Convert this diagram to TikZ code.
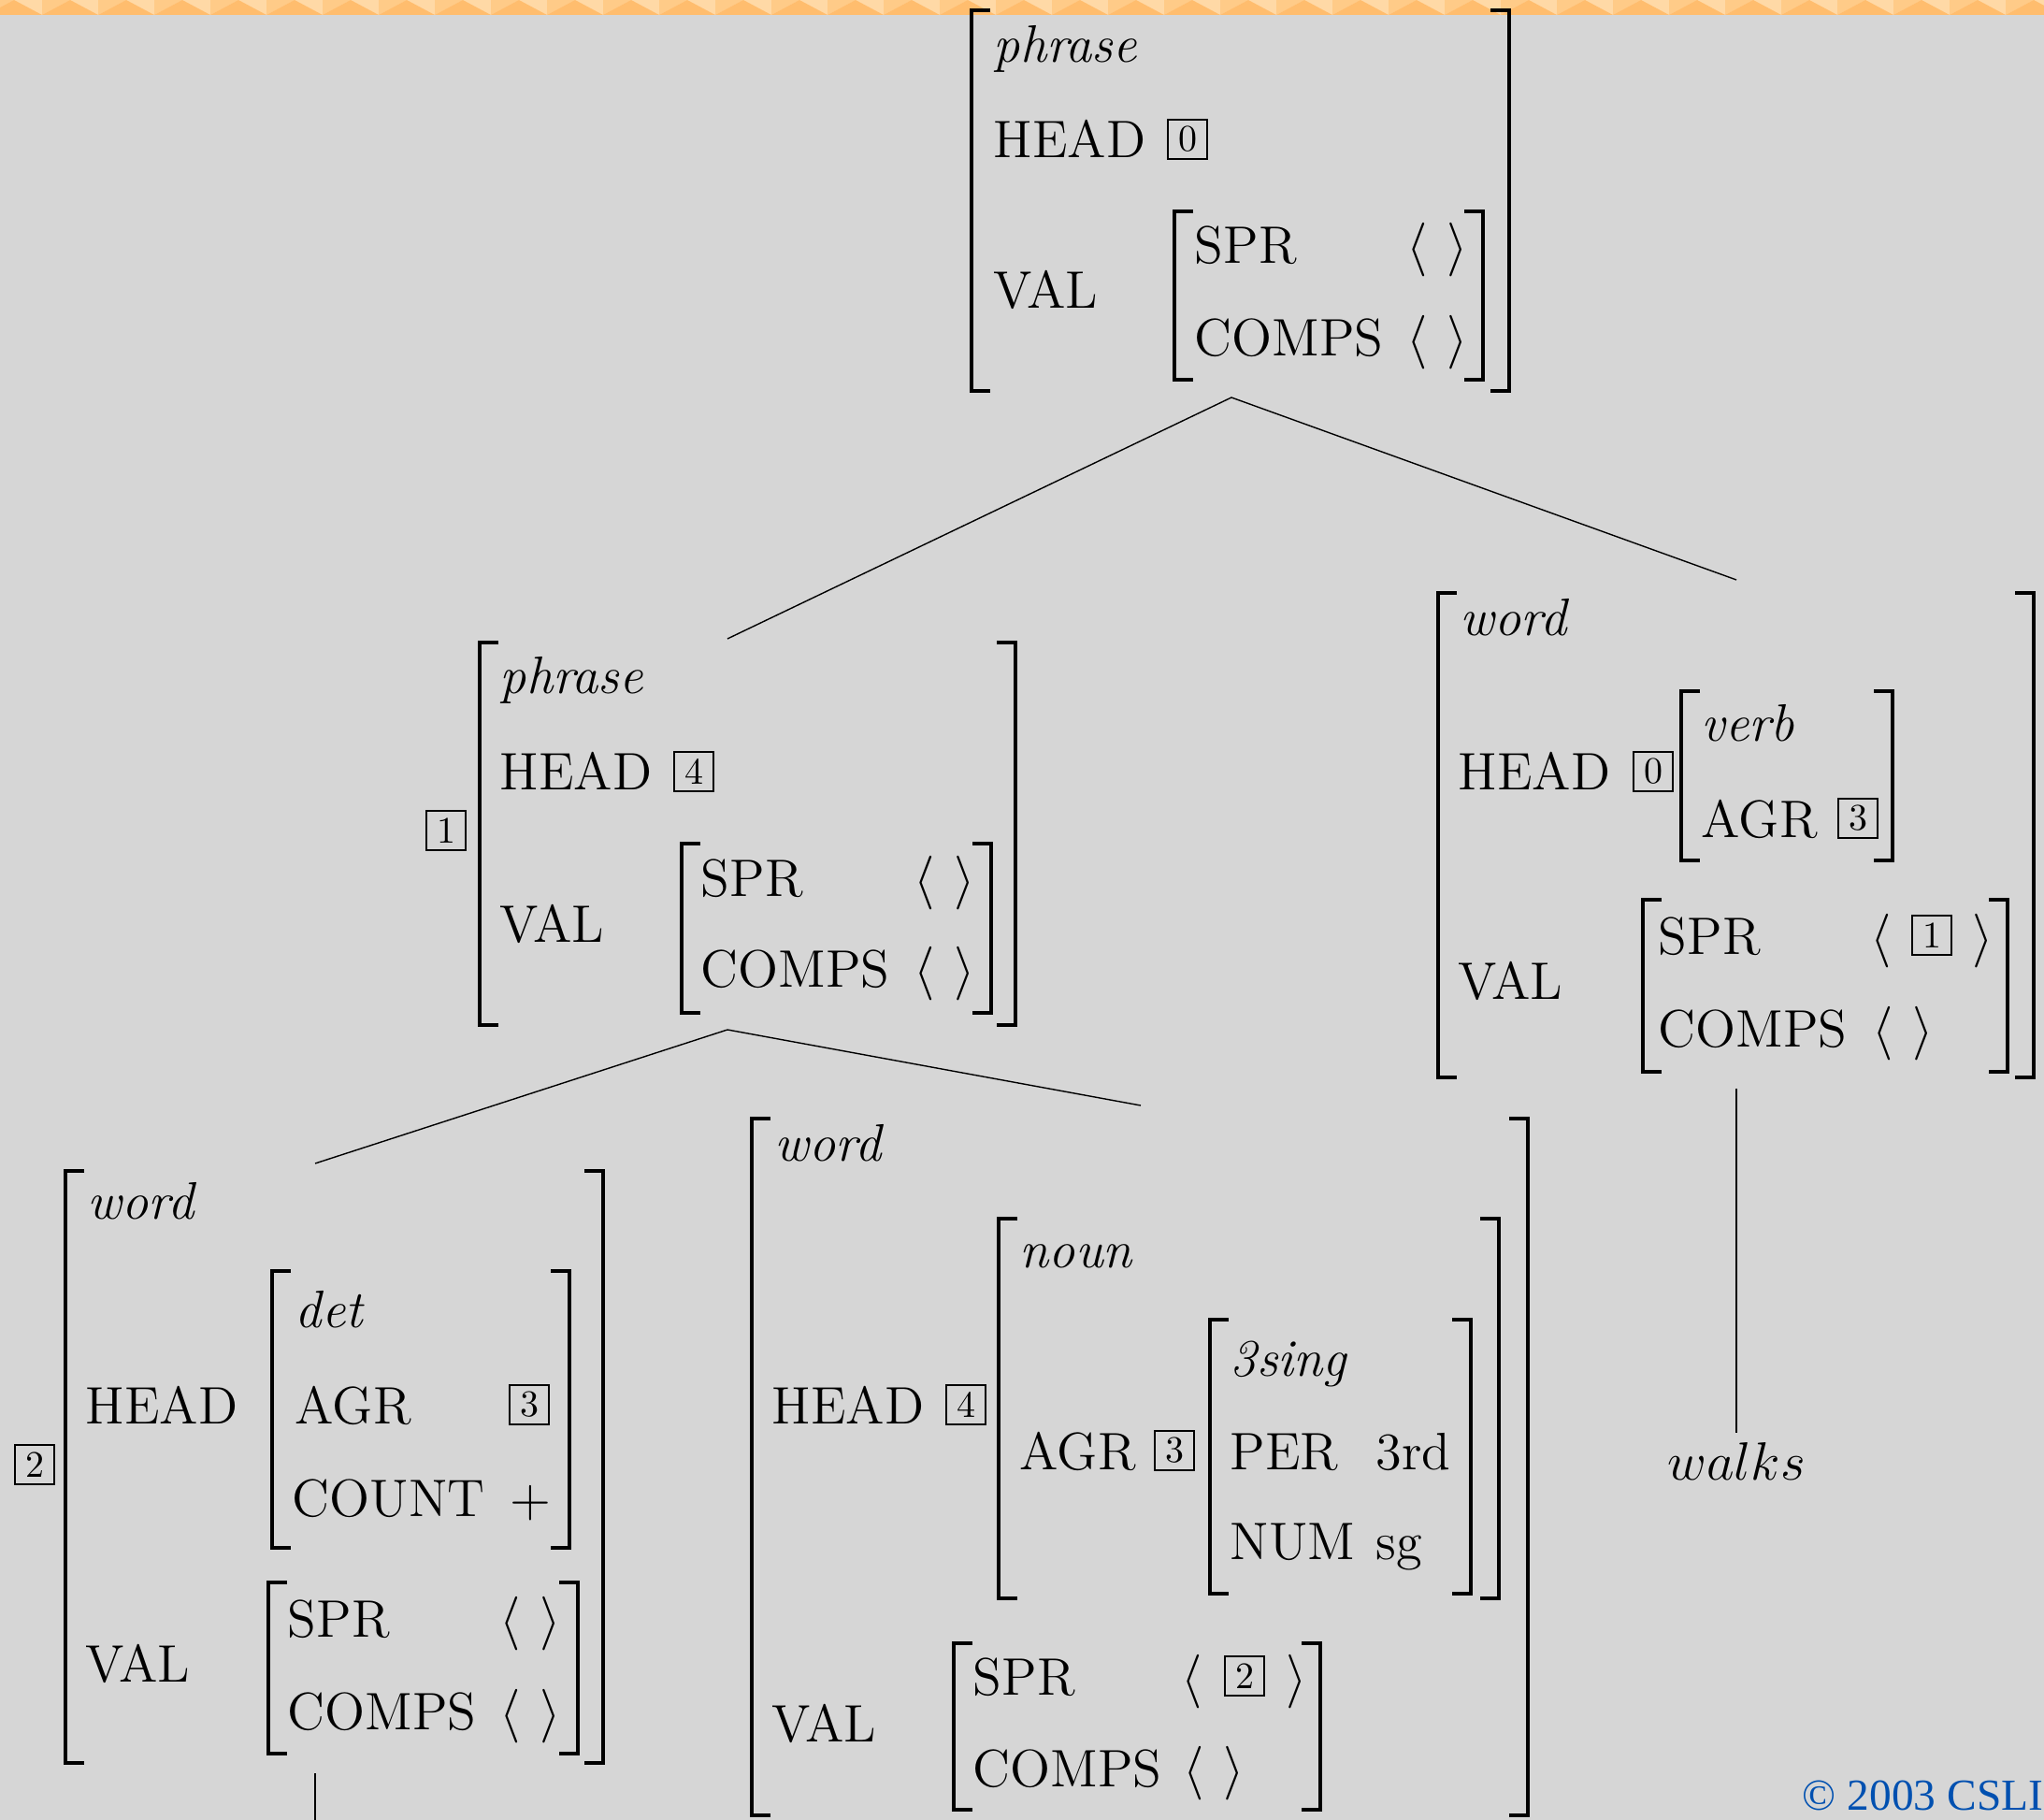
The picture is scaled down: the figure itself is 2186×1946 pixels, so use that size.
\documentclass[tikz,border=0pt]{standalone}
\usepackage{fontspec}
\newfontfamily\cslifont{Liberation Serif}
\definecolor{bgray}{HTML}{D6D6D6}
\definecolor{bandlight}{HTML}{FFD9A6}
\definecolor{bandmid}{HTML}{FFCB88}
\definecolor{banddark}{HTML}{FFBD6E}
\definecolor{csliblue}{HTML}{0050B0}
\tikzset{
  lbl/.style={anchor=base west, inner sep=0pt, font=\fontsize{14.1}{17}\selectfont},
  typ/.style={lbl, font=\fontsize{14.1}{17}\selectfont\itshape},
  rgt/.style={lbl, anchor=base east},
  tagbox/.style={draw, line width=0.5pt, minimum size=10.5pt, inner sep=0pt, font=\fontsize{10}{12}\selectfont},
  brk/.style={line width=0.875pt},
  treeline/.style={line width=0.35pt}
}
\newcommand\avmL[3]{\draw[brk] (#1+20,#2) -| (#1,#3) -- (#1+20,#3);}
\newcommand\avmR[3]{\draw[brk] (#1-20,#2) -| (#1,#3) -- (#1-20,#3);}
\begin{document}
\begin{tikzpicture}[x=0.25pt,y=-0.25pt]
\useasboundingbox (0,0) rectangle (2186,1946);
\fill[bgray] (0,0) rectangle (2186,1946);
% top band
\fill[bandlight] (0,0) rectangle (2186,16);
\foreach \k in {0,...,37}{
  \pgfmathsetmacro\xa{-15+60*\k}
  \fill[bandmid] (\xa,0) -- (\xa+30,0) -- (\xa,16) -- cycle;
  \fill[banddark] (\xa,16) -- (\xa+30,0) -- (\xa+60,16) -- cycle;
}
% ---------- top AVM (S) ----------
\avmL{1039}{11}{418}\avmR{1614}{11}{418}
\node[typ] (sType) at (1062,67) {phrase};
\node[lbl] (sHead) at (1062,169) {HEAD};
\node[tagbox] (sHeadTag) at (1270,149) {0};
\node[lbl] (sVal) at (1062,330) {VAL};
\avmL{1256}{226}{406}\avmR{1586}{226}{406}
\node[lbl] (sSpr) at (1277,282) {SPR};
\node[lbl] (sSprL) at (1504,282) {$\langle$};
\node[rgt] (sSprR) at (1571,282) {$\rangle$};
\node[lbl] (sComps) at (1277,381) {COMPS};
\node[lbl] (sCompsL) at (1504,381) {$\langle$};
\node[rgt] (sCompsR) at (1571,381) {$\rangle$};
% ---------- NP AVM ----------
\node[tagbox] (npTag) at (477,888) {1};
\avmL{513}{687}{1096}\avmR{1086}{687}{1096}
\node[typ] (npType) at (534,742) {phrase};
\node[lbl] (npHead) at (534,845) {HEAD};
\node[tagbox] (npHeadTag) at (742,825) {4};
\node[lbl] (npVal) at (534,1007) {VAL};
\avmL{729}{902}{1083}\avmR{1060}{902}{1083}
\node[lbl] (npSpr) at (749,958) {SPR};
\node[lbl] (npSprL) at (977,958) {$\langle$};
\node[rgt] (npSprR) at (1044,958) {$\rangle$};
\node[lbl] (npComps) at (749,1055) {COMPS};
\node[lbl] (npCompsL) at (977,1055) {$\langle$};
\node[rgt] (npCompsR) at (1044,1055) {$\rangle$};
% ---------- VP AVM ----------
\avmL{1538}{634}{1152}\avmR{2175}{634}{1152}
\node[typ] (vpType) at (1561,680) {word};
\node[lbl] (vpHead) at (1559,845) {HEAD};
\node[tagbox] (vpHeadTag) at (1768,825) {0};
\avmL{1798}{739}{920}\avmR{2024}{739}{920}
\node[typ] (vpVerb) at (1819,792) {verb};
\node[lbl] (vpAgr) at (1819,895) {AGR};
\node[tagbox] (vpAgrTag) at (1987,875) {3};
\node[lbl] (vpVal) at (1559,1068) {VAL};
\avmL{1757}{962}{1146}\avmR{2147}{962}{1146}
\node[lbl] (vpSpr) at (1773,1020) {SPR};
\node[lbl] (vpSprL) at (2000,1020) {$\langle$};
\node[tagbox] (vpSprTag) at (2066,1000) {1};
\node[rgt] (vpSprR) at (2133,1020) {$\rangle$};
\node[lbl] (vpComps) at (1773,1119) {COMPS};
\node[lbl] (vpCompsL) at (2002,1119) {$\langle$};
\node[rgt] (vpCompsR) at (2069,1119) {$\rangle$};
\node[anchor=base, inner sep=2.2pt, font=\fontsize{14.1}{17}\selectfont] (walks) at (1857,1582) {$walks$};
% ---------- Det AVM ----------
\node[tagbox] (dTag) at (37,1566) {2};
\avmL{70}{1252}{1885}\avmR{645}{1252}{1885}
\node[typ] (dType) at (93,1303) {word};
\node[lbl] (dHead) at (91,1522) {HEAD};
\avmL{291}{1359}{1655}\avmR{609}{1359}{1655}
\node[typ] (dDet) at (315,1419) {det};
\node[lbl] (dAgr) at (315,1522) {AGR};
\node[tagbox] (dAgrTag) at (566,1502) {3};
\node[lbl] (dCount) at (312,1621) {COUNT};
\node[lbl, anchor=base] (dPlus) at (567,1621) {$+$};
\node[lbl] (dVal) at (91,1798) {VAL};
\avmL{287}{1692}{1875}\avmR{618}{1692}{1875}
\node[lbl] (dSpr) at (307,1750) {SPR};
\node[lbl] (dSprL) at (534,1750) {$\langle$};
\node[rgt] (dSprR) at (601,1750) {$\rangle$};
\node[lbl] (dComps) at (307,1849) {COMPS};
\node[lbl] (dCompsL) at (534,1849) {$\langle$};
\node[rgt] (dCompsR) at (601,1849) {$\rangle$};
% ---------- Noun AVM ----------
\avmL{804}{1196}{1941}\avmR{1634}{1196}{1941}
\node[typ] (nType) at (828,1241) {word};
\node[lbl] (nHead) at (825,1522) {HEAD};
\node[tagbox] (nHeadTag) at (1033,1502) {4};
\avmL{1068}{1303}{1709}\avmR{1603}{1303}{1709}
\node[typ] (nNoun) at (1090,1355) {noun};
\node[lbl] (nAgr) at (1090,1571) {AGR};
\node[tagbox] (nAgrTag) at (1256,1551) {3};
\avmL{1294}{1411}{1704}\avmR{1573}{1411}{1704}
\node[typ] (n3sing) at (1315,1471) {3sing};
\node[lbl] (nPer) at (1315,1571) {PER};
\node[lbl] (nPerV) at (1471,1571) {3rd};
\node[lbl] (nNum) at (1315,1667) {NUM};
\node[lbl] (nNumV) at (1471,1667) {sg};
\node[lbl] (nVal) at (825,1862) {VAL};
\avmL{1020}{1757}{1935}\avmR{1412}{1757}{1935}
\node[lbl] (nSpr) at (1040,1812) {SPR};
\node[lbl] (nSprL) at (1263,1812) {$\langle$};
\node[tagbox] (nSprTag) at (1331,1792) {2};
\node[rgt] (nSprR) at (1399,1812) {$\rangle$};
\node[lbl] (nComps) at (1040,1910) {COMPS};
\node[lbl] (nCompsL) at (1265,1910) {$\langle$};
\node[rgt] (nCompsR) at (1332,1910) {$\rangle$};
% ---------- tree ----------
\coordinate (sFoot) at (1317,425);
\coordinate (npTop) at (778,683);
\coordinate (vpTop) at (1857,620);
\coordinate (npFoot) at (778,1101);
\coordinate (dTop) at (337,1244);
\coordinate (nTop) at (1220,1182);
\coordinate (vpFoot) at (1857,1164);
\coordinate (dFoot) at (337,1896);
\coordinate (dBelow) at (337,1946);
\draw[treeline] (npTop) -- (sFoot) -- (vpTop);
\draw[treeline] (dTop) -- (npFoot) -- (nTop);
\draw[treeline] (vpFoot) -- (walks);
\draw[treeline] (dFoot) -- (dBelow);
% copyright
\node[anchor=base east, inner sep=0pt, text=csliblue, font=\cslifont\fontsize{11.85}{14}\selectfont] (csli) at (2186,1935) {\textcopyright{} 2003 CSLI};
\end{tikzpicture}
\end{document}
